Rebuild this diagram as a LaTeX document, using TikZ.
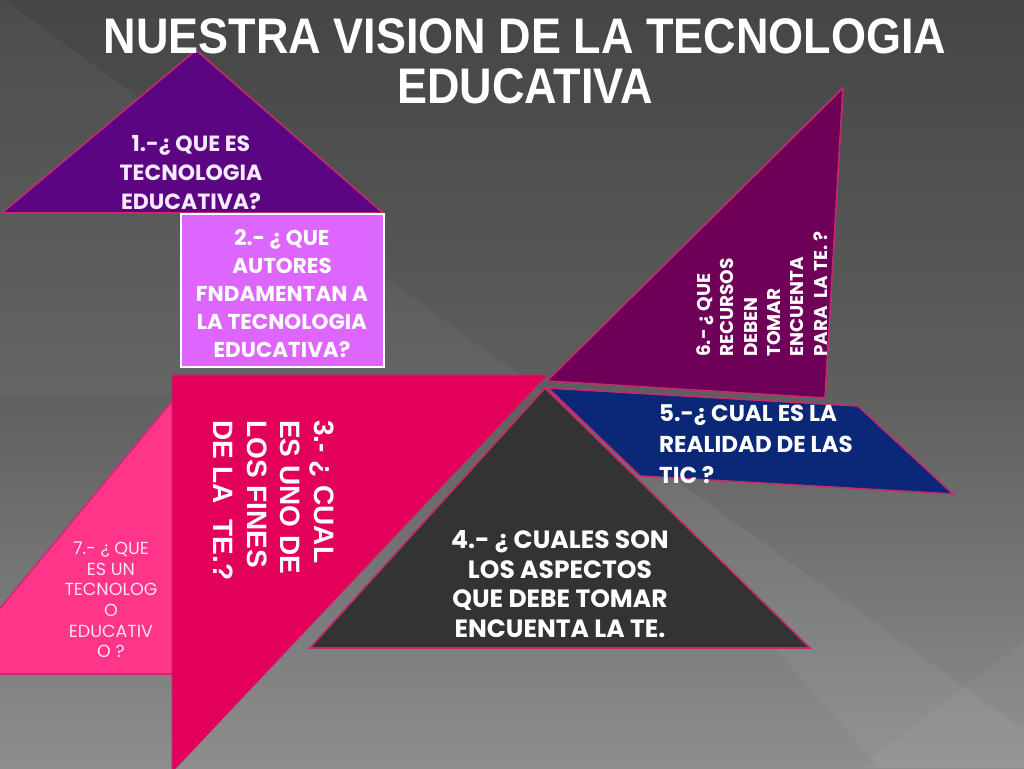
\documentclass[tikz,border=0pt]{standalone}
\usepackage{fontspec}
\setmainfont{Liberation Sans}
\newfontfamily\gothic{Poppins}
\newfontfamily\arialf{Liberation Sans}
\newfontfamily\titlef{Liberation Sans}[FakeStretch=0.9]
\definecolor{bgtop}{HTML}{454545}
\definecolor{bgmid}{HTML}{5E5E5E}
\definecolor{bgbot}{HTML}{8E8E8E}
\definecolor{edge}{HTML}{C42A6E}
\definecolor{purpA}{HTML}{5C0582}
\definecolor{lilac}{HTML}{DD66FF}
\definecolor{crim}{HTML}{E2005A}
\definecolor{hotpink}{HTML}{FF358A}
\definecolor{darkgr}{HTML}{333333}
\definecolor{navyb}{HTML}{0B2878}
\definecolor{plum}{HTML}{6E0058}
\definecolor{lavwhite}{HTML}{F5EAFF}
\definecolor{pinkwhite}{HTML}{FFE2F0}
\tikzset{
  piece/.style={draw=edge, line width=1.6pt, line join=miter},
  qtext/.style={font=\gothic\bfseries, text=white, align=center, inner sep=0pt},
}
\begin{document}
\begin{tikzpicture}[x=1pt,y=-1pt]
\useasboundingbox (0,0) rectangle (1024,768);
% background
\fill[top color=bgtop, bottom color=bgbot, middle color=bgmid] (0,0) rectangle (1024,768);
\fill[white, opacity=0.04] (0,-3) -- (547,395) -- (0,395) -- cycle;
\fill[white, opacity=0.05] (547,388) -- (1024,730) -- (1024,768) -- (880,768) -- cycle;
\fill[white, opacity=0.04] (860,768) -- (1024,640) -- (1024,768) -- cycle;
% shapes
\draw[piece, fill=purpA] (196,50) -- (2,213) -- (383,213) -- cycle;
\draw[fill=lilac, draw=white, line width=2pt] (181,214) rectangle (384,367);
\draw[piece, fill=hotpink, draw=edge!85!hotpink] (173,400) -- (-3,612) -- (-3,674) -- (173,674) -- cycle;
\draw[piece, fill=crim, draw=edge!70!crim, line width=1pt] (172,375) -- (547,375) -- (172,772) -- cycle;
\draw[piece, fill=plum] (547,381) -- (843,88) -- (825,398) -- cycle;
\draw[piece, fill=navyb] (548,388) -- (858,406) -- (953,494) -- (640,476) -- cycle;
\draw[piece, fill=darkgr] (545,388) -- (810,648) -- (310,648) -- cycle;
% title
\node[font=\titlef\bfseries\fontsize{50}{50}\selectfont, text=white, align=center, inner sep=0pt] (title) at (525,61) {NUESTRA VISION DE LA TECNOLOGIA\\EDUCATIVA};
% texts
\node[qtext, text=lavwhite, font=\gothic\bfseries\fontsize{22}{29}\selectfont] (q1) at (191,173) {1.-¿ QUE ES\\TECNOLOGIA\\EDUCATIVA?};
\node[qtext, font=\gothic\bfseries\fontsize{21.5}{28}\selectfont] (q2) at (282,294) {2.- ¿ QUE\\AUTORES\\FNDAMENTAN A\\LA TECNOLOGIA\\EDUCATIVA?};
\node[font=\arialf\bfseries\fontsize{28}{33.5}\selectfont, text=white, align=left, inner sep=0pt, rotate=-90, anchor=west] (q3) at (274,420) {3.- ¿ CUAL\\ES UNO DE\\LOS FINES\\DE LA~~TE.?};
\node[qtext, font=\gothic\bfseries\fontsize{25}{29.5}\selectfont] (q4) at (560,584) {4.- ¿ CUALES SON\\LOS ASPECTOS\\QUE DEBE TOMAR\\ENCUENTA LA TE.};
\node[qtext, align=left, anchor=west, font=\gothic\bfseries\fontsize{23}{31}\selectfont] (q5) at (659,444) {5.-¿ CUAL ES LA\\REALIDAD DE LAS\\TIC ?};
\node[qtext, align=left, rotate=90, anchor=west, font=\gothic\bfseries\fontsize{18.5}{23.3}\selectfont] (q6) at (762,357) {6.- ¿ QUE\\RECURSOS\\DEBEN\\TOMAR\\ENCUENTA\\PARA~~LA TE. ?};
\node[qtext, text=pinkwhite, font=\gothic\fontsize{17.5}{20.6}\selectfont] (q7) at (111,600) {7.- ¿ QUE\\ES UN\\TECNOLOG\\O\\EDUCATIV\\O ?};
\end{tikzpicture}
\end{document}
